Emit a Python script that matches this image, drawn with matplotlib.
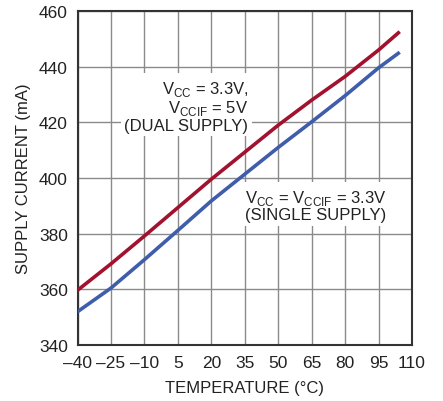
import matplotlib
matplotlib.use("Agg")
import matplotlib.pyplot as plt

plt.rcParams['font.family'] = ['Liberation Sans', 'DejaVu Sans']
plt.rcParams['mathtext.fontset'] = 'custom'
plt.rcParams['mathtext.rm'] = 'Liberation Sans'

# data
temp_dual = [-40, -25, -10, 5, 20, 35, 50, 65, 80, 95, 104.5]
curr_dual = [359.7, 369.2, 379.2, 389.4, 399.6, 409.3, 419.0, 428.0, 436.5, 446.0, 452.6]
temp_single = [-40, -25, -10, 5, 20, 35, 50, 65, 80, 95, 104.5]
curr_single = [352.0, 360.5, 370.7, 381.2, 391.8, 401.4, 411.0, 420.2, 429.6, 439.6, 445.2]

xticks = [-40, -25, -10, 5, 20, 35, 50, 65, 80, 95, 110]
yticks = [340, 360, 380, 400, 420, 440, 460]

fig = plt.figure(figsize=(4.43, 4.02), dpi=100)
ax = fig.add_axes([0.175, 0.139, 0.755, 0.831])

ax.plot(temp_dual, curr_dual, color='#a2122f', lw=2.6, solid_capstyle='butt', zorder=3)
ax.plot(temp_single, curr_single, color='#3f5dab', lw=2.6, solid_capstyle='butt', zorder=3)

ax.set_xlim(-40, 110)
ax.set_ylim(340, 460)
ax.set_xticks(xticks)
ax.set_xticklabels([str(t).replace('-', '\u2013') for t in xticks])
ax.set_yticks(yticks)
ax.grid(True, color='#8a8a8a', lw=1.0)
ax.set_axisbelow(True)
ax.tick_params(length=0, labelsize=12.5, pad=7, colors='#222222')
for s in ax.spines.values():
    s.set_color('#333333')
    s.set_linewidth(1.5)

ax.set_xlabel('TEMPERATURE (°C)', fontsize=12, color='#222222', labelpad=7)
ax.set_ylabel('SUPPLY CURRENT (mA)', fontsize=12, color='#222222', labelpad=6)

box = dict(facecolor='white', edgecolor='none', pad=2.5)
ax.text(36.6, 426, 'V$_{\\mathrm{CC}}$ = 3.3V,\nV$_{\\mathrm{CCIF}}$ = 5V\n(DUAL SUPPLY)',
        ha='right', va='center', multialignment='right', fontsize=12,
        color='#222222', linespacing=1.05, bbox=box, zorder=2)
ax.text(35.3, 390.3, 'V$_{\\mathrm{CC}}$ = V$_{\\mathrm{CCIF}}$ = 3.3V\n(SINGLE SUPPLY)',
        ha='left', va='center', multialignment='left', fontsize=12,
        color='#222222', linespacing=1.05, bbox=box, zorder=2)

fig.savefig('out.png', dpi=100)
